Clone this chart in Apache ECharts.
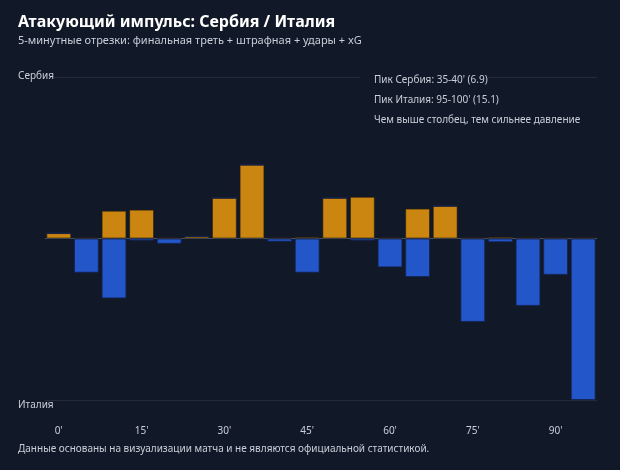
<!DOCTYPE html>
<html>
<head>
<meta charset="utf-8">
<script src="https://cdn.jsdelivr.net/npm/echarts@6/dist/echarts.min.js"></script>
<style>
  html, body { margin: 0; padding: 0; background: #111827; }
  #chart { width: 620px; height: 470px; }
</style>
</head>
<body>
<div id="chart"></div>
<script>
// 5-минутные отрезки
const categories = ["0'", "5'", "10'", "15'", "20'", "25'", "30'", "35'", "40'", "45'",
  "50'", "55'", "60'", "65'", "70'", "75'", "80'", "85'", "90'", "95'"];
// давление Сербии (вверх)
const serbia = [0.5, 0.1, 2.6, 2.7, 0.1, 0.2, 3.8, 6.9, 0.1, 0.15,
  3.8, 3.9, 0.1, 2.8, 3.05, 0.1, 0.15, 0.1, 0.1, 0.1];
// давление Италии (вниз)
const italy = [0, 3.2, 5.6, 0.2, 0.5, 0, 0, 0, 0.3, 3.2,
  0, 0.2, 2.7, 3.6, 0, 7.8, 0.35, 6.3, 3.4, 15.1];
const yLimit = 15.1;

const bg = "#111827";
const font = "'Noto Sans', sans-serif";
const textColor = "#c9ced8";

function label(x, y, text) {
  return {
    type: "text", x: x, y: y, z: 10,
    style: { text: text, fill: textColor, font: "10px " + font, verticalAlign: "middle" }
  };
}

const chart = echarts.init(document.getElementById("chart"));
const option = {
  backgroundColor: bg,
  animation: false,
  textStyle: { fontFamily: font },
  title: {
    text: "Атакующий импульс: Сербия / Италия",
    subtext: "5-минутные отрезки: финальная треть + штрафная + удары + xG",
    left: 18,
    top: 14,
    padding: 0,
    itemGap: 5,
    textStyle: { color: "#ffffff", fontSize: 16, fontWeight: "bold", fontFamily: font },
    subtextStyle: { color: textColor, fontSize: 11, fontFamily: font }
  },
  grid: { left: 45, right: 23, top: 77, bottom: 70 },
  xAxis: {
    type: "category",
    data: categories,
    axisLine: { show: false },
    axisTick: { show: false },
    axisLabel: { interval: 2, color: textColor, fontSize: 10, margin: 26, fontFamily: font }
  },
  yAxis: {
    type: "value",
    min: -yLimit,
    max: yLimit,
    interval: yLimit,
    axisLabel: { show: false },
    axisLine: { show: false },
    axisTick: { show: false },
    splitLine: { lineStyle: { color: ["#252b3a", "#465062", "#252b3a"], width: 1 } }
  },
  series: [
    {
      name: "Сербия",
      type: "bar",
      stack: "p",
      data: serbia,
      barCategoryGap: "10%",
      itemStyle: { color: "#ca8611", borderColor: "rgba(40,30,15,0.6)", borderWidth: 1 }
    },
    {
      name: "Италия",
      type: "bar",
      stack: "p",
      data: italy.map(v => -v),
      barCategoryGap: "10%",
      itemStyle: { color: "#2356c9", borderColor: "rgba(20,35,80,0.8)", borderWidth: 1 }
    }
  ],
  graphic: [
    // подложки под подписями, чтобы линия сетки не проходила сквозь текст
    { type: "rect", z: 9, shape: { x: 16, y: 71, width: 38, height: 11 }, style: { fill: bg } },
    { type: "rect", z: 9, shape: { x: 360, y: 71, width: 128, height: 12 }, style: { fill: bg } },
    label(18, 76, "Сербия"),
    label(18, 405, "Италия"),
    label(374, 80, "Пик Сербия: 35-40' (6.9)"),
    label(374, 100, "Пик Италия: 95-100' (15.1)"),
    label(374, 120, "Чем выше столбец, тем сильнее давление"),
    label(18, 449, "Данные основаны на визуализации матча и не являются официальной статистикой.")
  ]
};
chart.setOption(option);
</script>
</body>
</html>
